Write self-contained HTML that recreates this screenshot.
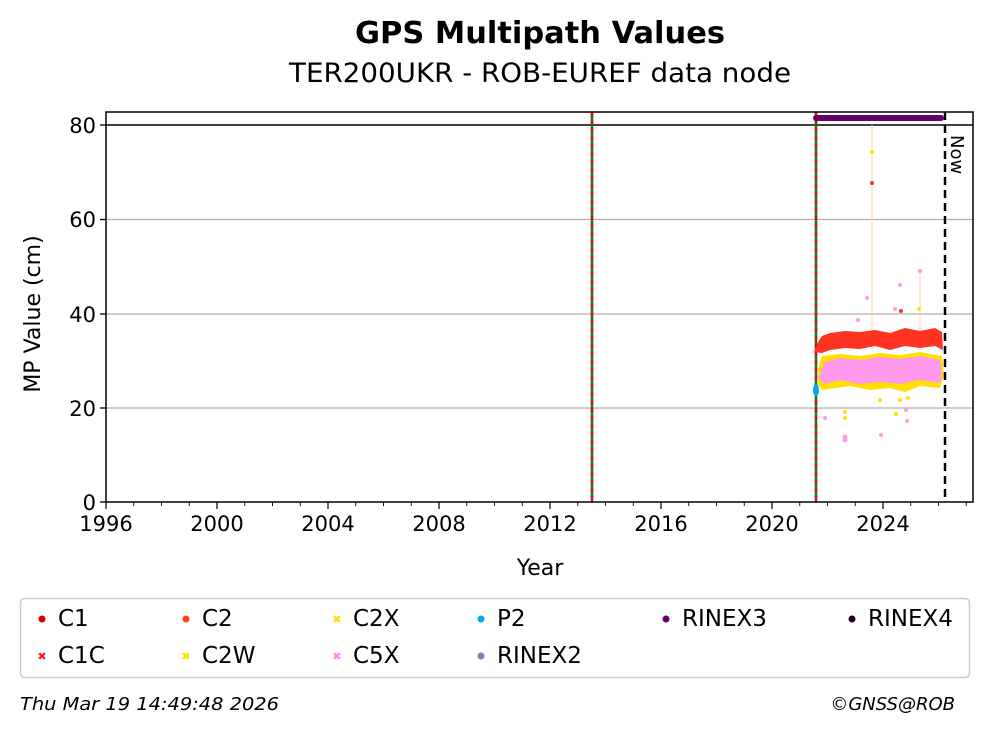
<!DOCTYPE html>
<html><head><meta charset="utf-8"><style>
body{margin:0;background:#fff;}
svg{display:block;font-family:"DejaVu Sans","Liberation Sans",sans-serif;}
</style></head><body>
<svg width="993" height="734" viewBox="0 0 993 734">
<text x="540" y="43" text-anchor="middle" font-size="30" font-weight="bold" textLength="370" lengthAdjust="spacingAndGlyphs">GPS Multipath Values</text>
<text x="540" y="82" text-anchor="middle" font-size="27" textLength="502" lengthAdjust="spacingAndGlyphs">TER200UKR - ROB-EUREF data node</text>
<g stroke="#b0b0b0" stroke-width="1.3">
<line x1="106" y1="408" x2="973" y2="408"/>
<line x1="106" y1="314" x2="973" y2="314"/>
<line x1="106" y1="219.5" x2="973" y2="219.5"/>
</g>
<line x1="106" y1="125" x2="973" y2="125" stroke="#000" stroke-width="1.5"/>
<line x1="592" y1="112" x2="592" y2="502" stroke="#0a7a0a" stroke-width="2.5"/>
<line x1="592" y1="112" x2="592" y2="502" stroke="#d01010" stroke-width="2.5" stroke-dasharray="4,4"/>
<line x1="816" y1="112" x2="816" y2="502" stroke="#0a7a0a" stroke-width="2.5"/>
<line x1="816" y1="112" x2="816" y2="502" stroke="#d01010" stroke-width="2.5" stroke-dasharray="4,4"/>
<g stroke="#ffd8b0" stroke-width="1">
<line x1="872" y1="125" x2="872" y2="350"/>
<line x1="920" y1="270" x2="920" y2="350"/>
</g>
<polygon fill="#ffe000" points="818,370 822,356 840,354 860,356 880,353 900,355 920,352 942,356 944,375 940,388 920,386 905,392 890,388 870,390 850,386 835,388 822,390 818,385"/>
<polygon fill="#ff99ee" points="818,378 825,362 840,358 860,360 880,357 900,359 920,356 940,360 942,375 940,383 920,380 900,384 880,382 860,384 840,380 825,384"/>
<polygon fill="#ff3322" points="814,352 818,342 822,336 830,333 845,331 860,332 875,330 890,333 905,328 920,331 935,328 942,332 943,350 935,346 920,348 905,346 890,350 875,346 860,349 845,348 830,350 822,353"/>
<ellipse cx="816" cy="390" rx="3" ry="6" fill="#00aaee"/>
<g fill="#ffe000">
<circle cx="872" cy="152" r="2"/><circle cx="919" cy="309" r="2"/><circle cx="845" cy="418" r="2"/><circle cx="845" cy="412" r="2"/><circle cx="896" cy="414" r="2"/><circle cx="900" cy="400" r="2"/><circle cx="880" cy="400" r="2"/><circle cx="908" cy="398" r="2"/>
</g>
<g fill="#ff99ee">
<circle cx="845" cy="437" r="2.5"/><circle cx="845" cy="440" r="2.5"/><circle cx="920" cy="271" r="2"/><circle cx="900" cy="285" r="2"/><circle cx="867" cy="298" r="2"/><circle cx="858" cy="320" r="2"/><circle cx="825" cy="418" r="2"/><circle cx="881" cy="435" r="2"/><circle cx="907" cy="421" r="2"/><circle cx="906" cy="410" r="2"/><circle cx="895" cy="309" r="2"/>
</g>
<g fill="#ff3322"><circle cx="872" cy="183" r="2"/><circle cx="901" cy="311" r="2"/></g>
<line x1="816" y1="118" x2="941" y2="118" stroke="#660066" stroke-width="6" stroke-linecap="round"/>
<line x1="945" y1="112" x2="945" y2="502" stroke="#000" stroke-width="2.5" stroke-dasharray="8,5"/>
<text x="951" y="135" font-size="18" transform="rotate(90 951 135)">Now</text>
<rect x="106" y="112" width="867" height="390" fill="none" stroke="#000" stroke-width="1.5"/>
<g stroke="#000" stroke-width="1.3">
<line x1="100" y1="502" x2="106" y2="502"/><line x1="100" y1="408" x2="106" y2="408"/><line x1="100" y1="314" x2="106" y2="314"/><line x1="100" y1="219.5" x2="106" y2="219.5"/><line x1="100" y1="125" x2="106" y2="125"/>
</g>
<g font-size="21" text-anchor="end">
<text x="96" y="510">0</text><text x="96" y="416">20</text><text x="96" y="322">40</text><text x="96" y="227">60</text><text x="96" y="133">80</text>
</g>
<text x="40" y="314" font-size="22" text-anchor="middle" transform="rotate(-90 40 314)">MP Value (cm)</text>
<g stroke="#000" stroke-width="1.2">
<line x1="106" y1="502" x2="106" y2="509"/><line x1="217" y1="502" x2="217" y2="509"/><line x1="328" y1="502" x2="328" y2="509"/><line x1="439" y1="502" x2="439" y2="509"/><line x1="550" y1="502" x2="550" y2="509"/><line x1="661" y1="502" x2="661" y2="509"/><line x1="772" y1="502" x2="772" y2="509"/><line x1="883" y1="502" x2="883" y2="509"/>
</g>
<g stroke="#000" stroke-width="0.9">
<path d="M133.75 502v4M161.5 502v4M189.25 502v4M244.75 502v4M272.5 502v4M300.25 502v4M355.75 502v4M383.5 502v4M411.25 502v4M466.75 502v4M494.5 502v4M522.25 502v4M577.75 502v4M605.5 502v4M633.25 502v4M688.75 502v4M716.5 502v4M744.25 502v4M799.75 502v4M827.5 502v4M855.25 502v4M910.75 502v4M938.5 502v4M966.25 502v4"/>
</g>
<g font-size="21" text-anchor="middle">
<text x="106" y="531">1996</text><text x="217" y="531">2000</text><text x="328" y="531">2004</text><text x="439" y="531">2008</text><text x="550" y="531">2012</text><text x="661" y="531">2016</text><text x="772" y="531">2020</text><text x="883" y="531">2024</text>
</g>
<text x="540" y="575" font-size="22" text-anchor="middle">Year</text>
<rect x="20.5" y="598.5" width="949" height="79" rx="4" fill="#fff" stroke="#ccc" stroke-width="1.5"/>
<g font-size="23">
<circle cx="42" cy="619" r="3.5" fill="#cc0000"/><text x="58" y="626">C1</text>
<text x="42" y="660" fill="#ff2222" font-size="11" text-anchor="middle">✖</text><text x="58" y="663">C1C</text>
<circle cx="186" cy="619" r="3.5" fill="#ff4411"/><text x="202" y="626">C2</text>
<text x="186" y="660" fill="#ffe000" font-size="11" text-anchor="middle">✖</text><text x="202" y="663">C2W</text>
<text x="337" y="623" fill="#ffe000" font-size="11" text-anchor="middle">✖</text><text x="353" y="626">C2X</text>
<text x="337" y="660" fill="#ff88ee" font-size="11" text-anchor="middle">✖</text><text x="353" y="663">C5X</text>
<circle cx="481" cy="619" r="3.5" fill="#00aaee"/><text x="497" y="626">P2</text>
<circle cx="481" cy="656" r="3.5" fill="#8877bb"/><text x="497" y="663">RINEX2</text>
<circle cx="666" cy="619" r="3.5" fill="#660066"/><text x="682" y="626">RINEX3</text>
<circle cx="852" cy="619" r="3.5" fill="#220022"/><text x="868" y="626">RINEX4</text>
</g>
<text x="20" y="710" font-size="18" font-style="italic" textLength="259" lengthAdjust="spacingAndGlyphs">Thu Mar 19 14:49:48 2026</text>
<text x="955" y="710" font-size="18" font-style="italic" text-anchor="end">©GNSS@ROB</text>
</svg>
</body></html>
